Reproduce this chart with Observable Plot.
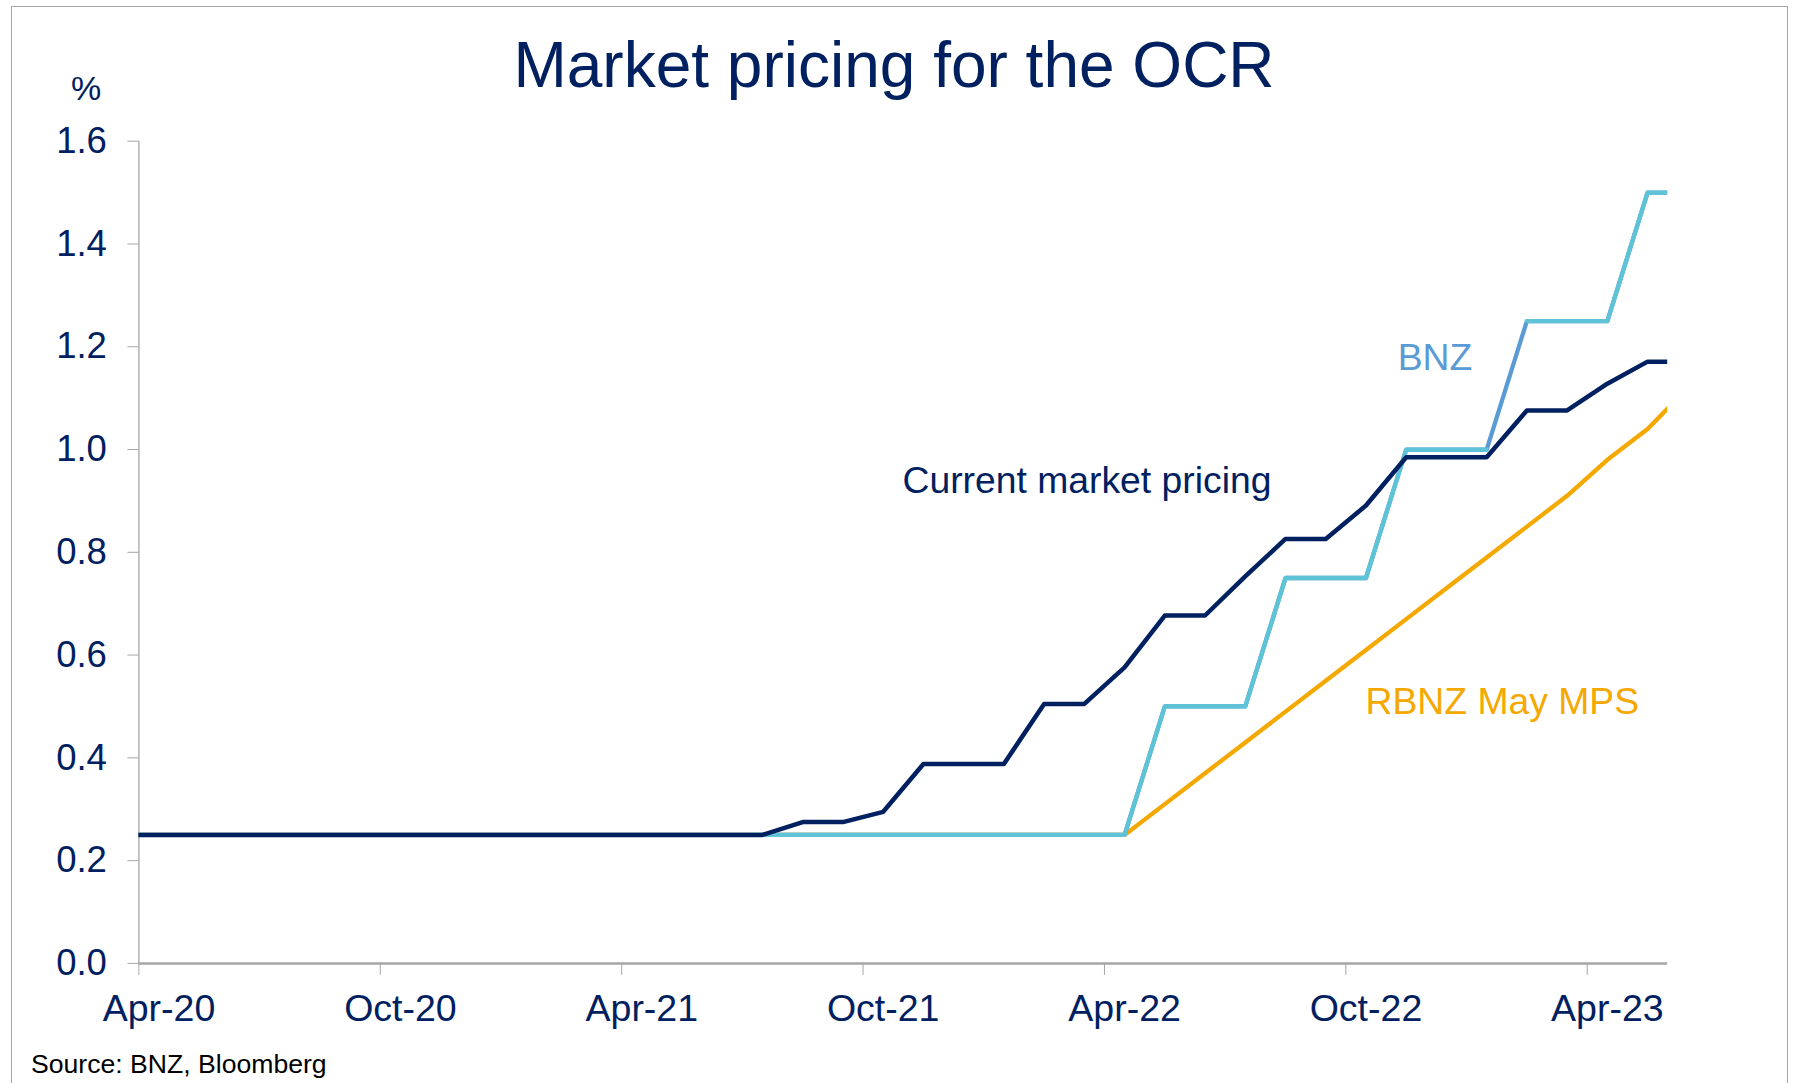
<!DOCTYPE html>
<html>
<head>
<meta charset="utf-8">
<script src="https://cdn.jsdelivr.net/npm/d3@7"></script>
<script src="https://cdn.jsdelivr.net/npm/@observablehq/plot@0.6"></script>
<style>
  html, body { margin: 0; padding: 0; background: #fff; }
  body { width: 1793px; height: 1083px; position: relative; overflow: hidden;
         font-family: "Liberation Sans", Arial, sans-serif; }
  #chart { position: absolute; left: 0; top: 0; }
  .t { position: absolute; white-space: nowrap; line-height: 1; }
  #frame { position: absolute; left: 11px; top: 6px; width: 1775px; height: 1200px;
           border: 1px solid #a6a6a6; pointer-events: none; }
</style>
</head>
<body>
<div id="chart"></div>
<div class="t" id="title" style="left:894px; top:32.5px; font-size:64px; color:#002060; transform:translateX(-50%);">Market pricing for the OCR</div>
<div class="t" id="unit" style="left:86px; top:70.5px; font-size:34px; color:#002060; transform:translateX(-50%);">%</div>
<div class="t" id="source" style="left:31px; top:1050.5px; font-size:26.6px; color:#000;">Source: BNZ, Bloomberg</div>
<div id="frame"></div>
<script>
// ---- categories (monthly) ----
const months = ["Mar-20","Apr-20","May-20","Jun-20","Jul-20","Aug-20","Sep-20","Oct-20","Nov-20","Dec-20",
  "Jan-21","Feb-21","Mar-21","Apr-21","May-21","Jun-21","Jul-21","Aug-21","Sep-21","Oct-21","Nov-21","Dec-21",
  "Jan-22","Feb-22","Mar-22","Apr-22","May-22","Jun-22","Jul-22","Aug-22","Sep-22","Oct-22","Nov-22","Dec-22",
  "Jan-23","Feb-23","Mar-23","Apr-23","May-23","Jun-23"];

// ---- series values (%) ----
const currentPricing = [0.25,0.25,0.25,0.25,0.25,0.25,0.25,0.25,0.25,0.25,
  0.25,0.25,0.25,0.25,0.25,0.25,0.25,0.275,0.275,0.295,0.388,0.388,
  0.388,0.505,0.505,0.576,0.677,0.677,0.753,0.826,0.826,0.891,0.985,0.985,
  0.985,1.076,1.076,1.128,1.171,1.171];
const bnzForecast = [0.25,0.25,0.25,0.25,0.25,0.25,0.25,0.25,0.25,0.25,
  0.25,0.25,0.25,0.25,0.25,0.25,0.25,0.25,0.25,0.25,0.25,0.25,
  0.25,0.25,0.25,0.25,0.5,0.5,0.5,0.75,0.75,0.75,1.0,1.0,
  1.0,1.25,1.25,1.25,1.5,1.5];
const rbnzMayMPS = [0.25,0.25,0.25,0.25,0.25,0.25,0.25,0.25,0.25,0.25,
  0.25,0.25,0.25,0.25,0.25,0.25,0.25,0.25,0.25,0.25,0.25,0.25,
  0.25,0.25,0.25,0.25,0.31,0.37,0.43,0.49,0.55,0.61,0.67,0.73,
  0.79,0.85,0.91,0.98,1.04,1.12];

// ---- tick labels ----
const xTickLabels = ["Apr-20","Oct-20","Apr-21","Oct-21","Apr-22","Oct-22","Apr-23"];
const yTicks = [0, 0.2, 0.4, 0.6, 0.8, 1.0, 1.2, 1.4, 1.6];

// ---- annotations ----
const annoText = ["Current market pricing", "BNZ", "RBNZ May MPS"];
const annoMonth = [18.98, 31.29, 30.49];
const annoValue = [0.916, 1.155, 0.486];

const navy = "#002060", cyan = "#5EC3D6", lblue = "#5B9BD5", orange = "#F5A800", gray = "#A6A6A6";

// category axis: Apr-20 occupies [0,1], centre at 0.5
const catIndex = m => months.indexOf(m) - 1;
const jan23 = months.indexOf("Jan-23");
const rows = months.map((m, i) => ({
  m, x: catIndex(m) + 0.5,
  cur: currentPricing[i], bnz: bnzForecast[i], rbnz: rbnzMayMPS[i],
  seg: i <= jan23 ? "a" : "b"
}));
const labelPos = xTickLabels.map(l => catIndex(l) + 0.5);
const labelMap = new Map(xTickLabels.map((l, i) => [labelPos[i], l]));
const tickPos = xTickLabels.map(l => catIndex(l));
const annos = annoText.map((t, i) => ({t, x: annoMonth[i], y: annoValue[i]}));
const annoColors = [navy, lblue, orange];

const chart = Plot.plot({
  width: 1793,
  height: 1083,
  marginLeft: 138.4,
  marginRight: 125.8,
  marginTop: 140.7,
  marginBottom: 120.1,
  x: {type: "linear", domain: [0, 38], axis: null},
  y: {type: "linear", domain: [0, 1.6], axis: null},
  style: {background: "transparent", fontFamily: "'Liberation Sans', Arial, sans-serif", color: navy},
  marks: [
    Plot.ruleX([0], {y1: 0, y2: 1.6, stroke: gray, strokeWidth: 1.3}),
    Plot.axisY(yTicks, {anchor: "left", tickSize: 11, tickPadding: 21, stroke: gray, fill: navy,
      fontSize: 36.5, tickFormat: d3.format(".1f"), label: null}),
    Plot.line(rows, {x: "x", y: "rbnz", stroke: orange, strokeWidth: 4.3, clip: true, strokeLinejoin: "round"}),
    Plot.line(rows, {x: "x", y: "bnz", stroke: lblue, strokeWidth: 4.3, clip: true, strokeLinejoin: "round"}),
    Plot.line(rows, {x: "x", y: "bnz", z: "seg", stroke: cyan, strokeWidth: 4.3, clip: true, strokeLinejoin: "round"}),
    Plot.line(rows, {x: "x", y: "cur", stroke: navy, strokeWidth: 4.5, clip: true, strokeLinejoin: "round"}),
    Plot.ruleY([0], {stroke: gray, strokeWidth: 2.5}),
    Plot.axisX(tickPos, {anchor: "bottom", tickSize: 12, stroke: gray, tickFormat: () => "", label: null}),
    Plot.axisX(labelPos, {anchor: "bottom", tickSize: 0, tickPadding: 31, fill: navy, fontSize: 37.5,
      tickFormat: d => labelMap.get(d), label: null}),
    Plot.text(annos, {x: "x", y: "y", text: "t", textAnchor: "start", lineAnchor: "bottom",
      fontSize: 37.3, fill: (d, i) => annoColors[i]})
  ]
});
document.getElementById("chart").appendChild(chart);
</script>
</body>
</html>
